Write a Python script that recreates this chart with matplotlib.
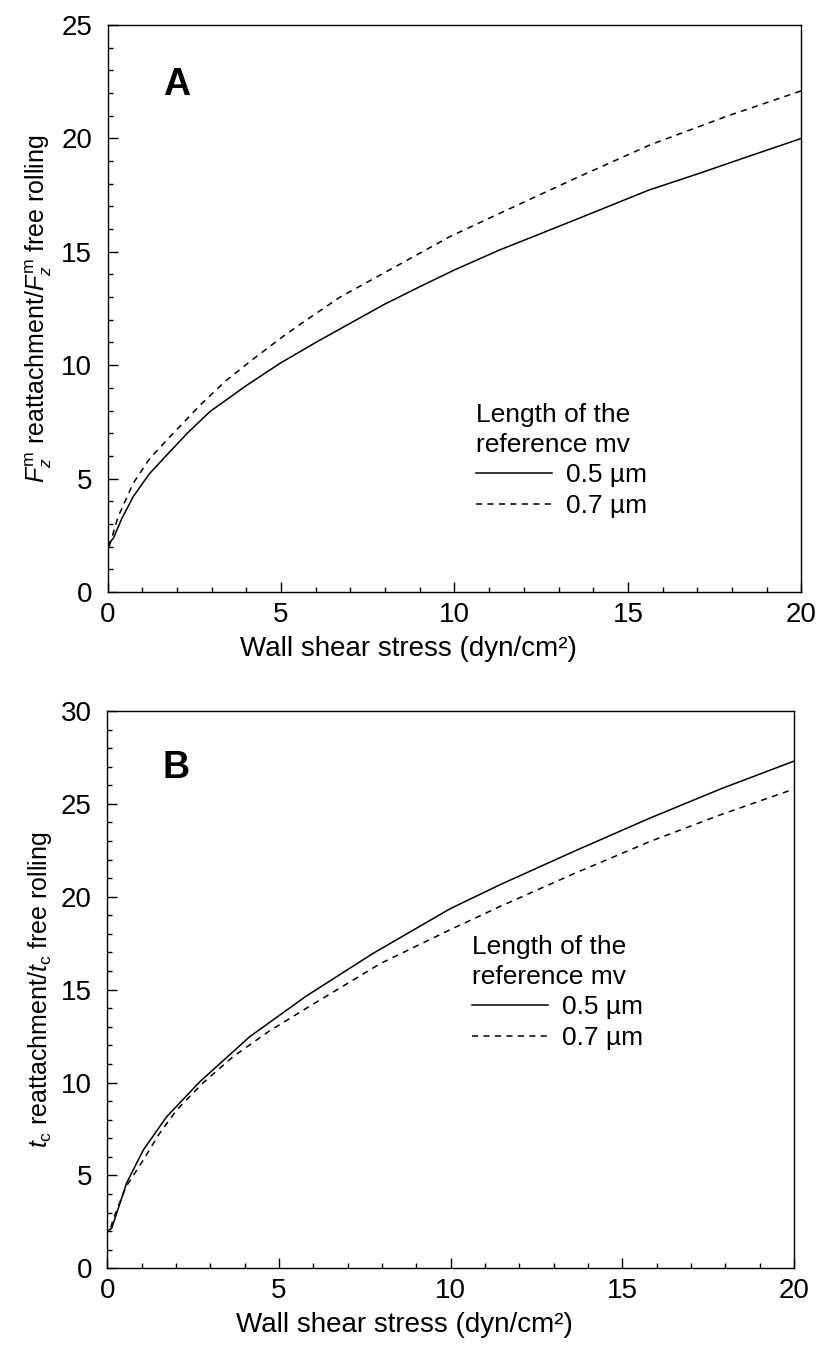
import matplotlib
matplotlib.use("Agg")
import matplotlib.pyplot as plt
from matplotlib.ticker import MultipleLocator

plt.rcParams['font.family'] = ['Liberation Sans', 'DejaVu Sans']
plt.rcParams['mathtext.fontset'] = 'custom'
plt.rcParams['mathtext.rm'] = 'Liberation Sans'
plt.rcParams['mathtext.it'] = 'Liberation Sans:italic'

# panel A: normal force ratio vs wall shear stress
a_x_05 = [0, 0.17, 0.4, 0.74, 1.2, 1.71, 2.3, 2.95, 4.0, 4.97, 6.0, 7.08, 8.0,
          9.0, 10.0, 11.3, 12.5, 14.0, 15.6, 17.0, 18.5, 20.0]
a_y_05 = [2.07, 2.37, 3.2, 4.2, 5.2, 6.04, 7.0, 7.95, 9.1, 10.08, 11.0, 11.92,
          12.7, 13.46, 14.2, 15.08, 15.81, 16.73, 17.72, 18.43, 19.22, 20.0]
a_x_07 = [0.05, 0.3, 0.74, 1.2, 1.71, 2.67, 3.4, 4.2, 5.0, 5.55, 6.7, 7.95,
          9.87, 11.31, 13.5, 15.63, 17.8, 20.0]
a_y_07 = [2.0, 3.3, 4.79, 5.85, 6.7, 8.24, 9.3, 10.27, 11.2, 11.8, 13.0, 14.05,
          15.67, 16.7, 18.25, 19.71, 20.95, 22.1]

# panel B: contact time ratio vs wall shear stress
b_x_05 = [0, 0.13, 0.56, 1.05, 1.73, 2.7, 4.15, 5.8, 7.74, 9.98, 11.43, 13.6,
          15.8, 17.9, 20.0]
b_y_05 = [2.0, 2.15, 4.58, 6.37, 8.16, 10.05, 12.47, 14.66, 16.95, 19.35,
          20.64, 22.45, 24.23, 25.83, 27.3]
b_x_07 = [0.1, 0.2, 0.55, 1.05, 1.5, 2.02, 2.8, 3.67, 4.7, 5.8, 7.97, 9.98,
          11.43, 13.6, 15.8, 17.9, 20.0]
b_y_07 = [2.2, 2.78, 4.4, 5.83, 7.2, 8.52, 10.0, 11.4, 12.75, 14.0, 16.42,
          18.22, 19.47, 21.25, 22.97, 24.44, 25.8]

labels = ['0.5 \u00b5m', '0.7 \u00b5m']
legend_title = 'Length of the\nreference mv'
xlabel = 'Wall shear stress (dyn/cm\u00b2)'

fig = plt.figure(figsize=(8.29, 13.53), dpi=100)
axA = fig.add_axes([0.1297, 0.5625, 0.837, 0.419])
axB = fig.add_axes([0.1294, 0.0626, 0.8283, 0.4119])

panels = [
    (axA, a_x_05, a_y_05, a_x_07, a_y_07, 25, 'A',
     r'$F_z^{\rm m}$ reattachment/$F_z^{\rm m}$ free rolling', 0.8765, 0.333),
    (axB, b_x_05, b_y_05, b_x_07, b_y_07, 30, 'B',
     r'$t_{\rm c}$ reattachment/$t_{\rm c}$ free rolling', 0.88, 0.598),
]

for ax, x5, y5, x7, y7, ymax, tag, ylab, tag_y, leg_y in panels:
    ax.plot(x5, y5, color='black', lw=1.1, label=labels[0])
    ax.plot(x7, y7, color='black', lw=1.1, linestyle=(0, (4, 3.5)),
            label=labels[1])
    ax.set_xlim(0, 20)
    ax.set_ylim(0, ymax)
    ax.xaxis.set_major_locator(MultipleLocator(5))
    ax.xaxis.set_minor_locator(MultipleLocator(1))
    ax.yaxis.set_major_locator(MultipleLocator(5))
    ax.yaxis.set_minor_locator(MultipleLocator(1))
    ax.tick_params(which='both', direction='in', top=False, right=False,
                   width=1.0)
    ax.tick_params(which='major', length=7, labelsize=20)
    ax.tick_params(axis='y', which='major', pad=11)
    ax.tick_params(axis='x', which='major', pad=7)
    ax.tick_params(which='minor', length=3.6)
    for sp in ax.spines.values():
        sp.set_linewidth(1.0)
    ax.set_xlabel(xlabel, fontsize=20, labelpad=6, x=0.433)
    ax.set_ylabel(ylab, fontsize=18, labelpad=5)
    ax.text(0.08, tag_y, tag, transform=ax.transAxes, fontsize=27,
            fontweight='bold', va='baseline', ha='left')
    leg = ax.legend(loc='upper left', bbox_to_anchor=(0.531, leg_y),
                    frameon=False, title=legend_title, alignment='left',
                    fontsize=19, title_fontsize=19, borderpad=0,
                    handlelength=2.9, handletextpad=0.5, labelspacing=0.25,
                    borderaxespad=0)
    leg.get_title().set_linespacing(1.3)

fig.savefig('out.png', dpi=100)
